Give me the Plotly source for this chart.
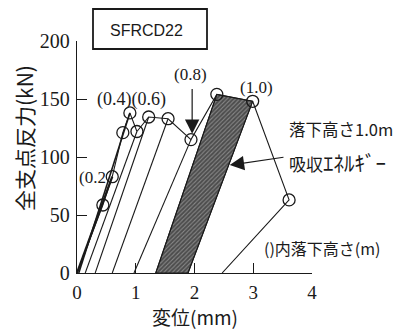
import plotly.graph_objects as go

# Peak points of the successive drops (displacement mm, total reaction kN)
peak_x = [0.44, 0.60, 0.78, 0.90, 1.02, 1.22, 1.55, 1.94, 2.38, 2.99, 3.61]
peak_y = [58.6, 83.0, 121.0, 138.0, 122.0, 134.5, 133.0, 115.0, 154.0, 148.0, 63.0]
# Final residual displacement after the last drop
final_residual = 2.47

# Loading / unloading branches: residual displacement -> peak index
branch_x0 = [0.00, 0.03, 0.14, 0.31, 0.60, 0.97, 1.34, 1.89]
branch_peak = [1, 3, 4, 5, 6, 7, 8, 9]
branch_width = [2.2, 1.6, 1.1, 1.1, 1.1, 1.1, 1.1, 1.1]

# Absorbed-energy loop for the 1.0 m drop
loop_x = [1.34, 2.38, 2.99, 1.89, 1.34]
loop_y = [0.0, 154.0, 148.0, 0.0, 0.0]

x_ticks = [0, 1, 2, 3, 4]
y_ticks = [0, 50, 100, 150, 200]

SERIF = "Liberation Serif"
SANS = "Liberation Sans"
CJK = "Noto Sans CJK JP"
INK = "#1a1a1a"

W, H = 402, 329
L, R, T, B = 77, 90, 41, 56
pw, ph = W - L - R, H - T - B


def px_to_paper(px, py):
    return (px - L) / pw, 1 - (py - T) / ph


fig = go.Figure()

# hatched absorbed-energy area
fig.add_trace(go.Scatter(
    x=loop_x, y=loop_y, mode="lines", fill="toself",
    fillcolor="#525252",
    fillpattern=dict(shape="/", bgcolor="#4c4c4c", fgcolor="#c4c4c4",
                     size=3, solidity=0.35),
    line=dict(color=INK, width=1), hoverinfo="skip", showlegend=False))

# loading branches from residual displacement up to the peaks
for x0, k, w in zip(branch_x0, branch_peak, branch_width):
    fig.add_trace(go.Scatter(
        x=[x0, peak_x[k]], y=[0, peak_y[k]], mode="lines",
        line=dict(color=INK, width=w), hoverinfo="skip", showlegend=False))

# envelope of peaks, from the origin to the final residual displacement
fig.add_trace(go.Scatter(
    x=[0] + peak_x + [final_residual], y=[0] + peak_y + [0],
    mode="lines", line=dict(color=INK, width=1.1),
    hoverinfo="skip", showlegend=False))
fig.add_trace(go.Scatter(
    x=peak_x, y=peak_y, mode="markers",
    marker=dict(symbol="circle-open", size=12, color=INK,
                line=dict(width=1.3, color=INK)),
    hoverinfo="skip", showlegend=False))

axis_common = dict(
    showgrid=False, zeroline=False, showline=True, linecolor=INK,
    linewidth=1.4, ticks="inside", ticklen=10, tickwidth=1.3,
    tickcolor=INK, mirror=False, title=None,
)
fig.update_xaxes(range=[0, 4], tickvals=x_ticks, ticklabelstandoff=2,
                 tickfont=dict(family=SERIF, size=19, color=INK),
                 **axis_common)
fig.update_yaxes(range=[0, 200], tickvals=y_ticks, ticklabelstandoff=2,
                 tickfont=dict(family=SERIF, size=20, color=INK),
                 **axis_common)

ann = []


def text(x, y, s, font, size, xanchor="left"):
    ann.append(dict(x=x, y=y, xref="x", yref="y", text=s, showarrow=False,
                    xanchor=xanchor, yanchor="middle",
                    font=dict(family=font, size=size, color=INK)))


text(0.005, 82, "(0.2", SERIF, 17)
text(0.30, 150, "(0.4)(0.6)", SERIF, 18)
text(1.94, 171, "(0.8)", SERIF, 17, xanchor="center")
text(3.06, 160, "(1.0)", SERIF, 17, xanchor="center")
text(3.57, 124, "落下高さ1.0m", CJK, 16.5)
text(3.57, 96, "吸収<span style='font-size:21px'>ｴﾈﾙｷﾞｰ</span>", CJK, 17)
text(3.15, 21.5, "()内落下高さ(m)", CJK, 16)

# arrow pointing at the 0.8 m peak
ann.append(dict(x=1.96, y=120, ax=1.96, ay=160, xref="x", yref="y",
                axref="x", ayref="y", text="", showarrow=True,
                arrowhead=2, arrowsize=2.4, arrowwidth=1.2, arrowcolor=INK,
                standoff=0))
# arrow pointing at the absorbed-energy area
ann.append(dict(x=2.60, y=93, ax=3.54, ay=100, xref="x", yref="y",
                axref="x", ayref="y", text="", showarrow=True,
                arrowhead=2, arrowsize=2.4, arrowwidth=1.2, arrowcolor=INK,
                standoff=0))

# axis titles
tx, ty = px_to_paper(195, 316.5)
ann.append(dict(x=tx, y=ty, xref="paper", yref="paper", text="変位(mm)",
                showarrow=False, xanchor="center", yanchor="middle",
                font=dict(family=CJK, size=19, color=INK)))
tx, ty = px_to_paper(24, 138)
ann.append(dict(x=tx, y=ty, xref="paper", yref="paper", text="全支点反力(kN)",
                showarrow=False, xanchor="center", yanchor="middle",
                textangle=-90, font=dict(family=CJK, size=21, color=INK)))

# specimen name in a box
nx, ny = px_to_paper(146, 30)
ann.append(dict(x=nx, y=ny, xref="paper", yref="paper", text="SFRCD22",
                showarrow=False, xanchor="center", yanchor="middle",
                font=dict(family=SANS, size=16, color=INK)))
bx0, by0 = px_to_paper(93, 49)
bx1, by1 = px_to_paper(207, 9)
fig.add_shape(type="rect", xref="paper", yref="paper",
              x0=bx0, y0=by0, x1=bx1, y1=by1,
              line=dict(color=INK, width=1.8))

fig.update_layout(
    annotations=ann,
    width=W, height=H,
    margin=dict(l=L, r=R, t=T, b=B),
    paper_bgcolor="white", plot_bgcolor="white",
    showlegend=False,
)

fig.write_html("out.html")
